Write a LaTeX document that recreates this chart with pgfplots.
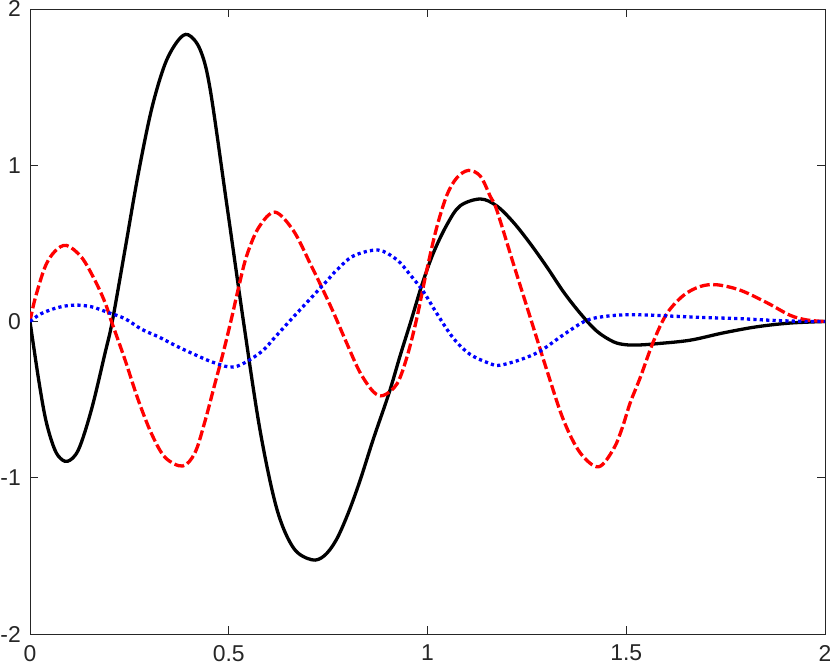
\documentclass[border=0pt]{standalone}
\usepackage{pgfplots}
\pgfplotsset{compat=1.18}
\usepackage{fontspec}
\setmainfont{Liberation Sans}
\definecolor{axgray}{RGB}{38,38,38}

\pgfplotstableread{
t y
0 0
0.021 -0.36
0.038 -0.61
0.055 -0.77
0.071 -0.86
0.094 -0.895
0.122 -0.82
0.155 -0.56
0.189 -0.20
0.207 0.0
0.239 0.46
0.272 0.94
0.306 1.36
0.340 1.65
0.373 1.80
0.398 1.835
0.428 1.74
0.453 1.49
0.495 0.75
0.537 0.0
0.579 -0.70
0.621 -1.20
0.663 -1.45
0.709 -1.525
0.740 -1.50
0.770 -1.40
0.800 -1.23
0.830 -1.02
0.864 -0.75
0.903 -0.46
0.931 -0.22
0.958 0.0
0.986 0.235
1.015 0.44
1.049 0.62
1.082 0.74
1.133 0.784
1.174 0.74
1.216 0.635
1.258 0.50
1.300 0.35
1.342 0.19
1.384 0.053
1.426 -0.062
1.468 -0.13
1.500 -0.149
1.535 -0.15
1.577 -0.142
1.660 -0.12
1.744 -0.073
1.828 -0.034
1.912 -0.01
2.000 0.0
}\blackdata

\pgfplotstableread{
t y
0 0
0.0126 0.144
0.038 0.35
0.063 0.45
0.092 0.487
0.130 0.41
0.164 0.26
0.189 0.12
0.205 0.0
0.239 -0.245
0.272 -0.50
0.306 -0.72
0.340 -0.87
0.384 -0.925
0.415 -0.84
0.440 -0.64
0.465 -0.40
0.487 -0.19
0.507 0.02
0.525 0.22
0.545 0.42
0.575 0.60
0.616 0.70
0.663 0.58
0.705 0.37
0.730 0.24
0.763 0.06
0.797 -0.14
0.830 -0.325
0.864 -0.45
0.889 -0.473
0.923 -0.40
0.948 -0.23
0.973 0.02
0.998 0.327
1.023 0.60
1.049 0.81
1.074 0.92
1.103 0.967
1.133 0.93
1.158 0.80
1.174 0.715
1.216 0.37
1.258 0.03
1.300 -0.31
1.342 -0.63
1.384 -0.84
1.430 -0.93
1.468 -0.816
1.490 -0.68
1.510 -0.52
1.535 -0.36
1.568 -0.13
1.602 0.05
1.644 0.167
1.686 0.224
1.728 0.235
1.787 0.20
1.854 0.12
1.912 0.04
1.954 0.01
2.000 0.0
}\reddata

\pgfplotstableread{
t y
0 0
0.028 0.05
0.071 0.09
0.113 0.105
0.155 0.094
0.197 0.057
0.239 0.018
0.281 -0.05
0.325 -0.10
0.365 -0.153
0.413 -0.21
0.465 -0.265
0.516 -0.29
0.579 -0.20
0.620 -0.09
0.663 0.03
0.705 0.145
0.747 0.26
0.772 0.33
0.814 0.42
0.876 0.457
0.923 0.395
0.956 0.30
0.990 0.19
1.023 0.053
1.065 -0.107
1.107 -0.21
1.158 -0.27
1.182 -0.28
1.233 -0.245
1.283 -0.19
1.342 -0.085
1.400 0.007
1.451 0.034
1.501 0.043
1.560 0.041
1.618 0.034
1.702 0.025
1.786 0.018
1.870 0.007
1.954 0.0
2.000 0.0
}\bluedata

\begin{document}
\begin{tikzpicture}
\begin{axis}[
    name=ax,
    at={(0,0)}, anchor=south west,
    scale only axis,
    width=795bp, height=625bp,
    xmin=0, xmax=2, ymin=-2, ymax=2,
    xtick={0,0.5,1,1.5,2},
    xticklabels={0,0.5,1,1.5,2},
    ytick={-2,-1,0,1,2},
    yticklabels={-2,-1,0,1,2},
    tick align=inside,
    major tick length=8bp,
    axis line style={axgray, line width=0.8bp},
    every tick/.style={axgray, line width=0.8bp},
    ticklabel style={font=\fontsize{23}{26}\selectfont, text=axgray, inner sep=0pt},
    xticklabel style={anchor=north, yshift=-11bp},
    yticklabel style={anchor=east, xshift=-9bp},
    /pgf/number format/assume math mode=true,
    clip=true,
]
\addplot[black, line width=3.3bp, smooth, tension=0.55] table[x=t, y=y] {\blackdata};
\addplot[red, line width=3.3bp, smooth, tension=0.55, line cap=butt,
    dash pattern=on 10bp off 3.5bp] table[x=t, y=y] {\reddata};
\addplot[blue, line width=3.3bp, smooth, tension=0.55, line cap=butt,
    dash pattern=on 3.2bp off 3.2bp] table[x=t, y=y] {\bluedata};
\end{axis}
\pgfresetboundingbox
\path[use as bounding box] ([xshift=-30bp,yshift=-37bp]ax.south west)
    rectangle ([xshift=5bp,yshift=9bp]ax.north east);
\end{tikzpicture}
\end{document}
